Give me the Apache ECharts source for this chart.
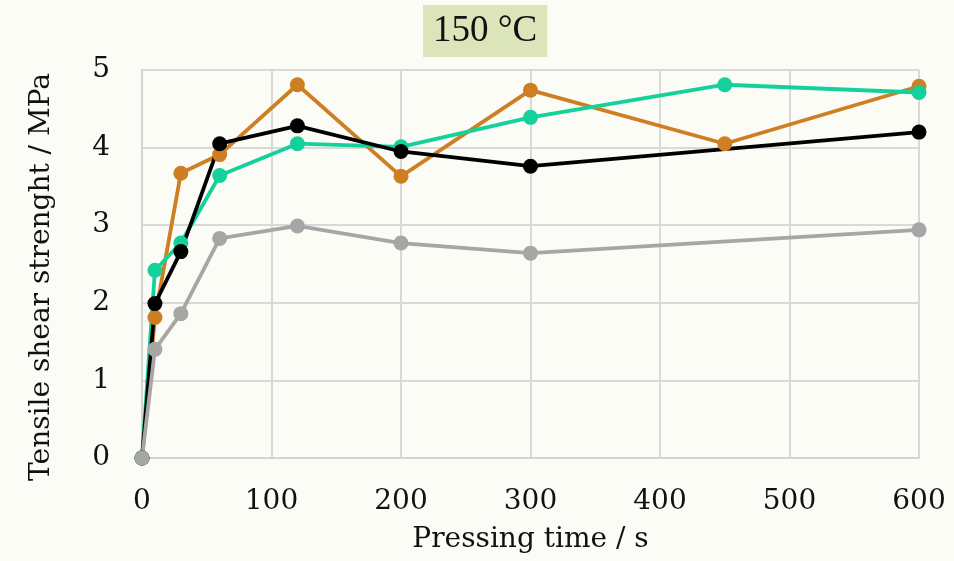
<!DOCTYPE html>
<html><head><meta charset="utf-8">
<script src="https://cdn.jsdelivr.net/npm/echarts@6/dist/echarts.min.js"></script>
<style>html,body{margin:0;padding:0;background:#fbfcf6;}#c{width:954px;height:561px;}</style>
</head><body><div id="c"></div>
<script>
const title = "150 °C";
const xName = "Pressing time / s";
const yName = "Tensile shear strenght / MPa";
const xOrange = [0, 10, 30, 60, 120, 200, 300, 450, 600];
const yOrange = [0, 1.81, 3.67, 3.91, 4.81, 3.63, 4.74, 4.05, 4.79];
const xTeal = [0, 10, 30, 60, 120, 200, 300, 450, 600];
const yTeal = [0, 2.42, 2.77, 3.64, 4.05, 4.01, 4.39, 4.81, 4.71];
const xBlack = [0, 10, 30, 60, 120, 200, 300, 600];
const yBlack = [0, 1.99, 2.66, 4.05, 4.28, 3.95, 3.76, 4.20];
const xGray = [0, 10, 30, 60, 120, 200, 300, 600];
const yGray = [0, 1.40, 1.86, 2.83, 2.99, 2.77, 2.64, 2.94];

const font = "'DejaVu Serif', 'Liberation Serif', serif";
function pairs(xs, ys){ return xs.map((x,i)=>[x, ys[i]]); }
function mk(name, xs, ys, color){
  return {name, type:'line', data:pairs(xs,ys), symbol:'circle', symbolSize:15,
    lineStyle:{color, width:3.8}, itemStyle:{color}, animation:false, z:2};
}
const chart = echarts.init(document.getElementById('c'));
chart.setOption({
  backgroundColor:'#fbfcf6',
  title:{text:title, left:423, top:5,
    backgroundColor:'#dbe5b9', padding:[7,10,6,10],
    textStyle:{fontFamily:"'Liberation Serif', serif", fontSize:37, fontWeight:'normal', color:'#111', lineHeight:39}},
  grid:{left:142, right:35, top:70, bottom:103, outerBoundsMode:'none'},
  xAxis:{type:'value', min:0, max:600, interval:100,
    name:xName, nameLocation:'middle', nameGap:68, nameMoveOverlap:false,
    nameTextStyle:{fontFamily:font, fontSize:28, color:'#111'},
    axisLine:{show:true, lineStyle:{color:'#d4d4d4', width:2}},
    axisTick:{show:false},
    axisLabel:{fontFamily:font, fontSize:28, color:'#111', margin:30},
    splitLine:{show:true, lineStyle:{color:'#d9d9d9', width:2}}},
  yAxis:{type:'value', min:0, max:5, interval:1,
    name:yName, nameLocation:'middle', nameGap:86, nameRotate:90,
    nameTextStyle:{fontFamily:font, fontSize:28, color:'#111', padding:[0,26,0,0]},
    axisLine:{show:true, lineStyle:{color:'#d4d4d4', width:2}},
    axisTick:{show:false},
    axisLabel:{fontFamily:font, fontSize:28, color:'#111', margin:32},
    splitLine:{show:true, lineStyle:{color:'#d9d9d9', width:2}}},
  series:[
    mk('A', xOrange, yOrange, '#cd7f22'),
    mk('B', xTeal, yTeal, '#14d09a'),
    mk('C', xBlack, yBlack, '#000000'),
    mk('D', xGray, yGray, '#a6a6a6')
  ]
});
</script></body></html>
